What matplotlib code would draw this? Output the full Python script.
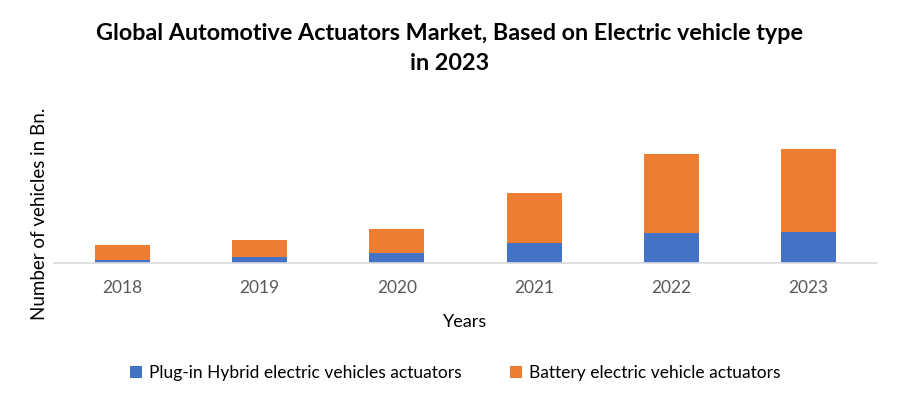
import matplotlib
matplotlib.use("Agg")
import matplotlib.pyplot as plt
import numpy as np

years = ["2018", "2019", "2020", "2021", "2022", "2023"]
phev = [0.30, 0.63, 1.03, 2.03, 3.03, 3.13]
bev = [1.50, 1.67, 2.37, 4.97, 7.87, 8.27]

plt.rcParams['font.family'] = ['Lato', 'DejaVu Sans']

fig = plt.figure(figsize=(9, 4.04), dpi=100)
ax = fig.add_axes([54/900, (404-263)/404, (877-54)/900, 170/404])

x = np.arange(len(years))
ax.bar(x, phev, width=0.4, color='#4472C4', label='Plug-in Hybrid electric vehicles actuators')
ax.bar(x, bev, width=0.4, bottom=phev, color='#ED7D31', label='Battery electric vehicle actuators')

ax.set_xlim(-0.5, 5.5)
ax.set_ylim(0, 17)
ax.set_xticks(x)
ax.set_xticklabels(years, fontsize=12.5, color='#595959')
ax.tick_params(axis='x', length=0, pad=12)
ax.set_yticks([])
for s in ['top', 'right', 'left']:
    ax.spines[s].set_visible(False)
ax.spines['bottom'].set_color('#D9D9D9')
ax.spines['bottom'].set_linewidth(1.2)

ax.set_xlabel('Years', fontsize=13, color='#000000', labelpad=13)
fig.text(40/900, 1 - 214/404, 'Number of vehicles in Bn.', rotation=90, fontsize=13.5,
         ha='center', va='center', color='#000000')

fig.text(450/900, 1 - 33/404, 'Global Automotive Actuators Market, Based on Electric vehicle type',
         fontsize=16.8, fontweight='bold', ha='center', va='center')
fig.text(450/900, 1 - 63/404, 'in 2023', fontsize=16.8, fontweight='bold', ha='center', va='center')

fig.legend(loc='center', bbox_to_anchor=(455/900, 1 - 373/404), ncol=2, frameon=False,
           fontsize=12.5, handlelength=0.7, handleheight=0.7, handletextpad=0.4, columnspacing=2.8)

fig.savefig('out.png', dpi=100, facecolor='white')
